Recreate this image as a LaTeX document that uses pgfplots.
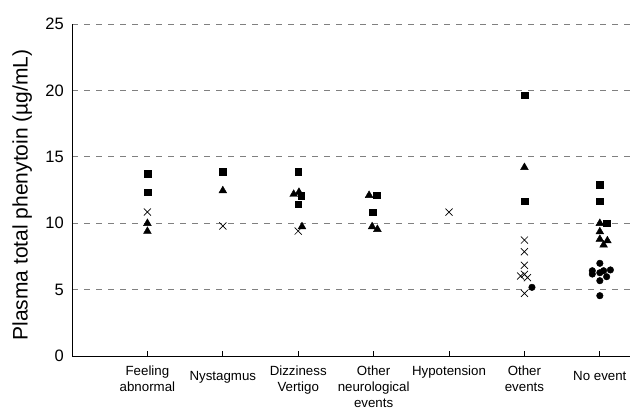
\documentclass[border=0pt]{standalone}
\usepackage{pgfplots}
\pgfplotsset{compat=1.18}
\usepackage{fontspec}
\setmainfont{Liberation Sans}
\begin{document}
\begin{tikzpicture}
\useasboundingbox (0,0) rectangle (630bp,409bp);
\begin{axis}[
  at={(72bp,53bp)}, anchor=south west,
  scale only axis, width=558bp, height=332bp,
  xmin=0, xmax=7.4, ymin=0, ymax=25,
  axis x line*=bottom, axis y line*=left,
  axis line style={black, line width=0.9bp},
  xtick={1,2,3,4,5,6,7},
  xticklabels={{Feeling\\abnormal},{\raisebox{-5bp}[\height][\depth]{Nystagmus}},{Dizziness\\Vertigo},{Other\\neurological\\events},{Hypotension},{Other\\events},{\raisebox{-5bp}[\height][\depth]{No event}}},
  xticklabel style={anchor=north, align=center, inner sep=0pt, yshift=-10bp, font=\fontsize{13.3bp}{15.6bp}\selectfont},
  x tick style={black, line width=0.8bp},
  tick align=inside, major tick length=5bp,
  ytick={0,5,10,15,20,25},
  y tick style={draw=none},
  yticklabel style={anchor=east, inner sep=0pt, xshift=-8bp, font=\fontsize{16.5bp}{19bp}\selectfont},
  /pgf/number format/assume math mode=true,
  ymajorgrids,
  major grid style={gray, line width=0.8bp, dash pattern=on 6bp off 6bp},
  ylabel={Plasma total phenytoin (µg/mL)},
  ylabel style={at={(axis description cs:0,0.5)}, anchor=base, xshift=-5bp, yshift=44.5bp, inner sep=0pt, font=\fontsize{21bp}{25bp}\selectfont},
  clip=false,
]
% squares
\addplot[only marks, mark=square*, mark size=3.3bp, black] coordinates {
(1,13.73) (1,12.33) (2,13.9) (3,13.9) (3.04,12.07) (3,11.42) (4.04,12.1) (3.99,10.84)
(6,19.65) (6,11.65) (7,12.9) (7,11.65) (7.09,9.99)
};
% triangles
\addplot[only marks, mark=triangle*, mark size=4.5bp, black] coordinates {
(1,9.99) (1,9.39) (2,12.45) (2.94,12.18) (3.01,12.33) (3.05,9.74) (3.94,12.1) (3.98,9.74) (4.05,9.54)
(6,14.2) (7,9.99) (7,9.36) (7,8.79) (7.1,8.68) (7.05,8.36)
};
% crosses
\addplot[only marks, mark=x, mark size=5bp, black, mark options={line width=0.7bp}] coordinates {
(1,10.84) (2,9.79) (3,9.41) (5,10.84) (6,8.73) (6,7.85) (6,6.83) (6,6.15) (5.95,6.02) (6.04,5.9) (6,4.72)
};
% circles
\addplot[only marks, mark=*, mark size=3.3bp, black] coordinates {
(6.1,5.17) (7,6.98) (6.9,6.42) (6.9,6.17) (7,6.27) (7.05,6.42) (7.14,6.48) (7.09,5.97) (7,5.67) (7,4.54)
};
\end{axis}
\end{tikzpicture}
\end{document}
